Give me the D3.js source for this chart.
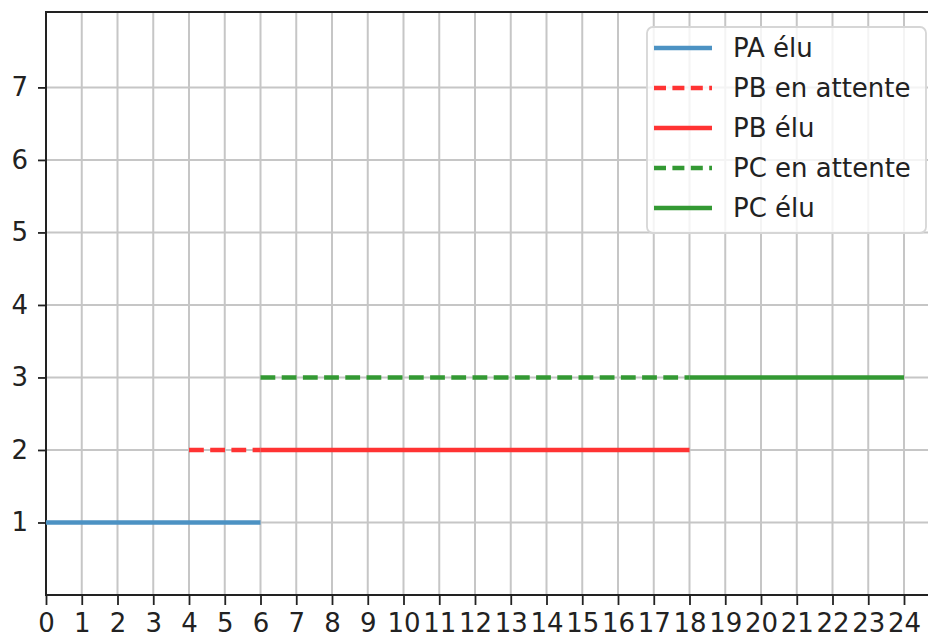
<!DOCTYPE html>
<html>
<head>
<meta charset="utf-8">
<script src="https://cdn.jsdelivr.net/npm/d3@7"></script>
<style>
  body { margin: 0; background: #fff; }
  text { font-family: "DejaVu Sans", sans-serif; }
</style>
</head>
<body>
<svg id="chart"></svg>
<script>
var width = 928,
    height = 637;

// data : segments (start, end) per process and state
var processes = ["PA", "PB", "PC"];
var levels = [1, 2, 3];
var waitStart = [null, 4, 6];
var waitEnd = [null, 6, 18];
var runStart = [0, 6, 18];
var runEnd = [6, 18, 24];
var colors = ["rgb(76,146,195)", "rgb(255,51,51)", "rgb(51,153,51)"];

var xTicks = d3.range(0, 25);
var yTicks = [1, 2, 3, 4, 5, 6, 7];
var legendLabels = ["PA élu", "PB en attente", "PB élu", "PC en attente", "PC élu"];

var plotLeft = 46, plotBottom = 595, plotTop = 12;
var unitX = 35.75;

var x = d3.scaleLinear()
          .domain([0, 25])
          .range([plotLeft, plotLeft + 25 * unitX]);
var y = d3.scaleLinear()
          .domain([0, 8.04])
          .range([plotBottom, plotTop]);

var svg = d3.select('#chart')
            .attr('width', width)
            .attr('height', height);

// grid
svg.append('g').selectAll('line')
    .data(xTicks)
    .enter().append('line')
      .attr('x1', d => x(d)).attr('x2', d => x(d))
      .attr('y1', plotTop).attr('y2', plotBottom)
      .attr('stroke', '#c6c6c6').attr('stroke-width', 2);
svg.append('g').selectAll('line')
    .data(yTicks)
    .enter().append('line')
      .attr('x1', plotLeft).attr('x2', x(25))
      .attr('y1', d => y(d)).attr('y2', d => y(d))
      .attr('stroke', '#c6c6c6').attr('stroke-width', 2);

// axes
var xAxis = d3.axisBottom(x).tickValues(xTicks).tickSize(10).tickPadding(9).tickFormat(d3.format('d'));
var yAxis = d3.axisLeft(y).tickValues(yTicks).tickSize(8).tickPadding(10).tickFormat(d3.format('d'));

var gx = svg.append('g').attr('transform', 'translate(0,' + plotBottom + ')').call(xAxis);
var gy = svg.append('g').attr('transform', 'translate(' + plotLeft + ',0)').call(yAxis);
[gx, gy].forEach(g => {
  g.select('.domain').remove();
  g.selectAll('.tick line').attr('stroke', '#222').attr('stroke-width', 1.8);
  g.selectAll('.tick text').attr('fill', '#222').style('font-size', '26px');
});

// spines
svg.append('rect')
    .attr('x', plotLeft).attr('y', plotTop)
    .attr('width', x(25) - plotLeft).attr('height', plotBottom - plotTop)
    .attr('fill', 'none').attr('stroke', '#222').attr('stroke-width', 2);

// segments
var dash = '14.8,6.4';
var lines = svg.append('g');
processes.forEach((p, i) => {
  if (waitStart[i] !== null) {
    lines.append('line')
      .attr('x1', x(waitStart[i])).attr('x2', x(waitEnd[i]))
      .attr('y1', y(levels[i])).attr('y2', y(levels[i]))
      .attr('stroke', colors[i]).attr('stroke-width', 4.5)
      .attr('stroke-dasharray', dash);
  }
  lines.append('line')
    .attr('x1', x(runStart[i])).attr('x2', x(runEnd[i]))
    .attr('y1', y(levels[i])).attr('y2', y(levels[i]))
    .attr('stroke', colors[i]).attr('stroke-width', 4.5);
});

// legend
var legendColors = [colors[0], colors[1], colors[1], colors[2], colors[2]];
var legendDashed = [false, true, false, true, false];
var legend = svg.append('g');
legend.append('rect')
    .attr('x', 647).attr('y', 27)
    .attr('width', 279).attr('height', 206)
    .attr('rx', 6)
    .attr('fill', 'rgba(255,255,255,0.8)')
    .attr('stroke', '#d6d6d6').attr('stroke-width', 1.8);
legendLabels.forEach((lab, i) => {
  var cy = 48 + i * 40;
  legend.append('line')
    .attr('x1', 654).attr('x2', 712)
    .attr('y1', cy).attr('y2', cy)
    .attr('stroke', legendColors[i]).attr('stroke-width', 4.5)
    .attr('stroke-dasharray', legendDashed[i] ? '12,6.4' : null);
  legend.append('text')
    .attr('x', 733).attr('y', cy)
    .attr('dy', '0.35em')
    .attr('fill', '#222')
    .style('font-size', '26px')
    .text(lab);
});
</script>
</body>
</html>
